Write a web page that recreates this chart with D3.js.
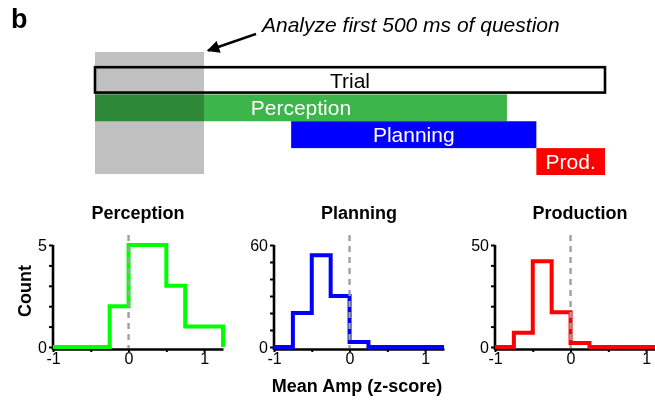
<!DOCTYPE html>
<html>
<head>
<meta charset="utf-8">
<script src="https://cdn.jsdelivr.net/npm/d3@7"></script>
<style>
  html, body { margin: 0; padding: 0; background: #fff; }
  svg { display: block; font-family: "Liberation Sans", Arial, sans-serif; }
</style>
</head>
<body>
<svg id="chart" width="655" height="402"></svg>
<script>
// Trial timeline phases (ms from question onset)
const phaseNames = ["Trial", "Perception", "Planning", "Production"];
const phaseLabels = ["Trial", "Perception", "Planning", "Prod."];
const phaseStart = [0, 0, 900, 2025];
const phaseEnd = [2340, 1890, 2025, 2340];
const phaseColors = ["none", "#3cb54a", "#0000ff", "#ff0000"];
const analysisWindow = [0, 500];

// Histograms of mean amplitude (z-score), bins of width 0.25 from -1 to 1.25
const binEdges = [-1, -0.75, -0.5, -0.25, 0, 0.25, 0.5, 0.75, 1, 1.25];
const histTitles = ["Perception", "Planning", "Production"];
const perceptionCounts = [0, 0, 0, 2, 5, 5, 3, 1, 1];
const planningCounts = [0, 20, 54, 30, 3, 0, 0, 0, 0];
const productionCounts = [0, 7, 42, 17, 2, 0, 0, 0, 0];
const histMax = [5, 60, 50];
const histColors = ["#00ff00", "#0000ff", "#ff0000"];
const xTickValues = [-1, -0.5, 0, 0.5, 1];

const svg = d3.select("#chart");
const font = '"Liberation Sans", Arial, sans-serif';

// Panel letter
svg.append("text")
  .attr("x", 11).attr("y", 28)
  .attr("font-size", 27).attr("font-weight", "bold")
  .text("b");

// ---------- Timeline ----------
const tx = d3.scaleLinear().domain([0, 2340]).range([95, 605]);
const ty = d3.scaleBand().domain(phaseNames).range([67.5, 175]).padding(0);

const tl = svg.append("g");

// Trial outline
tl.append("rect")
  .attr("x", tx(phaseStart[0]))
  .attr("y", ty("Trial") - 0.3)
  .attr("width", tx(phaseEnd[0]) - tx(phaseStart[0]))
  .attr("height", ty.bandwidth() - 1.5)
  .attr("fill", "#fff")
  .attr("stroke", "#000")
  .attr("stroke-width", 2.6);

// Phase bars
phaseNames.forEach((name, i) => {
  if (i === 0) return;
  tl.append("rect")
    .attr("x", tx(phaseStart[i]))
    .attr("y", ty(name))
    .attr("width", tx(phaseEnd[i]) - tx(phaseStart[i]))
    .attr("height", ty.bandwidth())
    .attr("fill", phaseColors[i]);
});

// Analysis window (darkens whatever lies beneath it)
tl.append("rect")
  .attr("x", tx(analysisWindow[0]))
  .attr("y", 52)
  .attr("width", tx(analysisWindow[1]) - tx(analysisWindow[0]))
  .attr("height", 174 - 52)
  .attr("fill", "#c0c0c0")
  .style("mix-blend-mode", "multiply");

// Phase labels
phaseNames.forEach((name, i) => {
  tl.append("text")
    .attr("x", (tx(phaseStart[i]) + tx(phaseEnd[i])) / 2)
    .attr("y", ty(name) + ty.bandwidth() / 2 + 7.5)
    .attr("text-anchor", "middle")
    .attr("font-size", 21)
    .attr("fill", i === 0 ? "#000" : "#fff")
    .text(phaseLabels[i]);
});

// Annotation with arrow
const defs = svg.append("defs");
defs.append("marker")
  .attr("id", "arrowhead")
  .attr("viewBox", "0 0 10 10")
  .attr("refX", 9).attr("refY", 5)
  .attr("markerWidth", 5.5).attr("markerHeight", 5)
  .attr("markerUnits", "strokeWidth")
  .attr("orient", "auto")
  .append("path")
  .attr("d", "M0,0 L10,5 L0,10 z")
  .attr("fill", "#000");

svg.append("line")
  .attr("x1", 256).attr("y1", 34)
  .attr("x2", 208).attr("y2", 50.5)
  .attr("stroke", "#000")
  .attr("stroke-width", 2.5)
  .attr("marker-end", "url(#arrowhead)");

svg.append("text")
  .attr("x", 262).attr("y", 32)
  .attr("font-size", 21)
  .attr("font-style", "italic")
  .text("Analyze first 500 ms of question");

// ---------- Histograms ----------
const counts = [perceptionCounts, planningCounts, productionCounts];
const panelLeft = [53, 274, 495];
const panelWidth = 170;
const yTop = 245, yBottom = 347;

counts.forEach((c, k) => {
  const g = svg.append("g");
  const x = d3.scaleLinear()
    .domain([binEdges[0], binEdges[binEdges.length - 1]])
    .range([panelLeft[k], panelLeft[k] + panelWidth]);
  const y = d3.scaleLinear().domain([0, histMax[k]]).range([yBottom, yTop]);

  // Title
  g.append("text")
    .attr("x", panelLeft[k] + panelWidth / 2)
    .attr("y", 219)
    .attr("text-anchor", "middle")
    .attr("font-size", 18)
    .attr("font-weight", "bold")
    .text(histTitles[k]);

  // Step outline of the histogram
  const pts = [[binEdges[0], 0]];
  c.forEach((v, i) => {
    pts.push([binEdges[i], v]);
    pts.push([binEdges[i + 1], v]);
  });
  pts.push([binEdges[binEdges.length - 1], 0]);

  // Axes
  const step = histMax[k] === 5 ? 1 : 10;
  const xAxis = d3.axisBottom(x)
    .tickValues(xTickValues)
    .tickSize(3).tickSizeOuter(0).tickPadding(1)
    .tickFormat(d => Number.isInteger(d) ? String(d) : "");
  const yAxis = d3.axisLeft(y)
    .tickValues(d3.range(0, histMax[k] + 0.001, step))
    .tickSize(4).tickSizeOuter(0).tickPadding(2)
    .tickFormat(d => (d === 0 || d === histMax[k]) ? String(d) : "");

  const gx = g.append("g")
    .attr("transform", `translate(0,${yBottom + 2})`)
    .call(xAxis);
  const gy = g.append("g")
    .attr("transform", `translate(${panelLeft[k]},0)`)
    .call(yAxis);

  [gx, gy].forEach(ax => {
    ax.select(".domain").attr("stroke", "#000").attr("stroke-width", 2.6);
    ax.selectAll(".tick line").attr("stroke", "#000").attr("stroke-width", 2);
    ax.selectAll(".tick text")
      .attr("fill", "#000")
      .attr("font-size", 16)
      .attr("font-family", font);
  });
  gy.select(".domain").attr("d", `M0,${yTop}V${yBottom + 3}`);

  g.append("path")
    .datum(pts)
    .attr("d", d3.line().x(d => x(d[0])).y(d => y(d[1])))
    .attr("fill", "none")
    .attr("stroke", histColors[k])
    .attr("stroke-width", 4)
    .attr("stroke-linejoin", "miter");

  // Zero reference
  g.append("line")
    .attr("x1", x(0)).attr("x2", x(0))
    .attr("y1", yTop - 10).attr("y2", yBottom + 1)
    .attr("stroke", "#a0a0a0")
    .attr("stroke-width", 2.4)
    .attr("stroke-dasharray", "6,5");
});

// Shared axis labels
svg.append("text")
  .attr("transform", `translate(31,${(yTop + yBottom) / 2 - 5}) rotate(-90)`)
  .attr("text-anchor", "middle")
  .attr("font-size", 18)
  .attr("font-weight", "bold")
  .text("Count");

svg.append("text")
  .attr("x", panelLeft[1] + panelWidth / 2 - 2)
  .attr("y", 392)
  .attr("text-anchor", "middle")
  .attr("font-size", 18)
  .attr("font-weight", "bold")
  .text("Mean Amp (z-score)");
</script>
</body>
</html>
